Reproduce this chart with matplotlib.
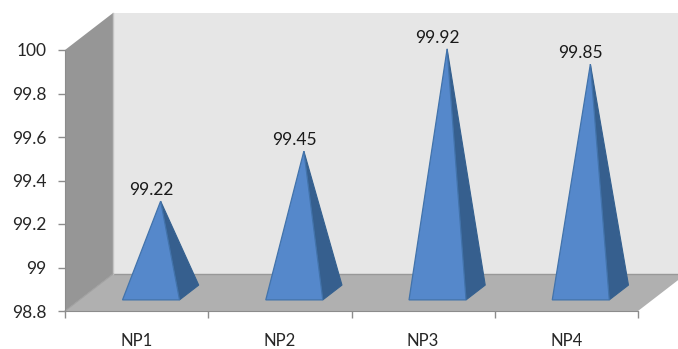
import matplotlib
matplotlib.use('Agg')
import matplotlib.pyplot as plt
from matplotlib.patches import Polygon

categories = ['NP1', 'NP2', 'NP3', 'NP4']
values = [99.22, 99.45, 99.92, 99.85]
y_ticks = [98.8, 99, 99.2, 99.4, 99.6, 99.8, 100]
y_labels = ['98.8', '99', '99.2', '99.4', '99.6', '99.8', '100']

W, H = 678, 349
# depth of the fake 3d box, in axis units
depth_x = 48 / 143.25
depth_y = 37 / 217.5
half_w = 28.5 / 143.25

plt.rcParams['font.family'] = ['Lato', 'DejaVu Sans']

fig = plt.figure(figsize=(W / 100, H / 100), dpi=100)
ax = fig.add_axes([65 / W, 1 - 311 / H, 573 / W, 261 / H])
ax.set_xlim(0.5, 4.5)
ax.set_ylim(98.8, 100)


def proj(x, y, d):
    return (x + d * depth_x, y + d * depth_y)


def face(points, color, edge='none', z=2, lw=0.0):
    ax.add_patch(Polygon(points, closed=True, facecolor=color, edgecolor=edge,
                         linewidth=lw, clip_on=False, zorder=z))


# walls
x0, x1 = 0.5, 4.5
y0, y1 = 98.8, 100
right_edge = x1 + 40 / 143.25
face([proj(x0, y0, 1), (right_edge, y0 + depth_y), (right_edge, y1 + depth_y), proj(x0, y1, 1)], '#e6e6e6', z=1)
face([proj(x0, y0, 0), proj(x0, y0, 1), proj(x0, y1, 1), proj(x0, y1, 0)], '#969696', z=1)
face([proj(x0, y0, 0), proj(x1, y0, 0), proj(x1, y0, 1), proj(x0, y0, 1)], '#b0b0b0', z=1.5)
ax.plot(*zip(proj(x0, y0, 1), proj(x1, y0, 1)), color='#989898', lw=1, clip_on=False, zorder=1.6)
ax.plot(*zip(proj(x0, y0, 1), proj(x0, y1, 1)), color='#c4c4c4', lw=1, clip_on=False, zorder=1.6)
ax.plot(*zip(proj(x0, y0, 0), proj(x0, y0, 1)), color='#a0a0a0', lw=0.8, clip_on=False, zorder=1.6)

# pyramids
for i, v in enumerate(values):
    c = i + 1
    fl = proj(c - half_w, y0, 0.3)
    fr = proj(c + half_w, y0, 0.3)
    br = proj(c + half_w, y0, 0.7)
    top = proj(c, v, 0.5)
    face([fr, br, top], '#365f8e', edge='#34608f', z=3, lw=0.8)
    face([fl, fr, top], '#5588cb', edge='#4273ab', z=4, lw=0.9)
    ax.annotate(f'{v:g}', top, xytext=(-7, 2), textcoords='offset points', ha='center', va='bottom',
                fontsize=12.5, color='#1a1a1a', annotation_clip=False, zorder=5)

for s in ax.spines.values():
    s.set_visible(False)
ax.spines['left'].set_visible(True)
ax.spines['left'].set_color('#8c8c8c')
ax.spines['bottom'].set_visible(True)
ax.spines['bottom'].set_color('#8c8c8c')
ax.patch.set_visible(False)

ax.set_yticks(y_ticks)
ax.set_yticklabels(y_labels)
ax.set_xticks([0.5, 1.5, 2.5, 3.5, 4.5])
ax.set_xticklabels([])
ax.set_xticks([1, 2, 3, 4], minor=True)
ax.set_xticklabels(categories, minor=True)
ax.tick_params(axis='y', length=5, width=1, color='#8c8c8c', labelsize=12.5, labelcolor='#262626', pad=8.2)
ax.tick_params(axis='x', which='major', length=5, width=1, color='#8c8c8c')
ax.tick_params(axis='x', which='minor', length=0, labelsize=12, labelcolor='#262626', pad=16.2)

fig.savefig('out.png', dpi=100)
